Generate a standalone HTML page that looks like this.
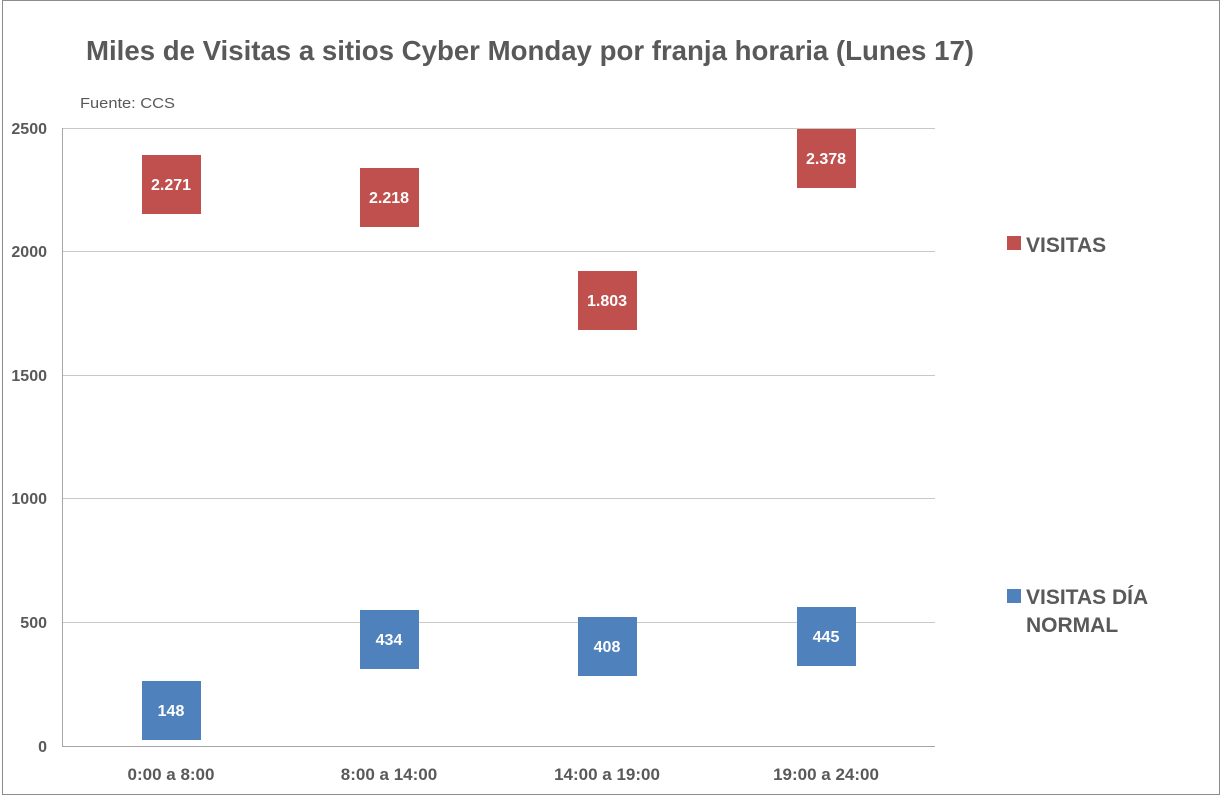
<!DOCTYPE html>
<html><head><meta charset="utf-8"><style>
html,body{margin:0;padding:0;background:#fff;}
svg{display:block;}
text{font-family:"Liberation Sans Narrow","Liberation Sans",sans-serif;}
</style></head><body>
<svg width="1222" height="797" viewBox="0 0 1222 797" xmlns="http://www.w3.org/2000/svg">
<rect x="2.5" y="0.5" width="1217" height="794" fill="#fff" stroke="#8c8c8c"/>
<text x="86" y="60" font-size="28" font-weight="bold" fill="#595959" textLength="888" lengthAdjust="spacingAndGlyphs">Miles de Visitas a sitios Cyber Monday por franja horaria (Lunes 17)</text>
<text x="80" y="108" font-size="15" fill="#595959" textLength="95" lengthAdjust="spacingAndGlyphs">Fuente: CCS</text>
<g stroke="#c8c8c8" stroke-width="1">
<line x1="62" y1="128.5" x2="935" y2="128.5"/>
<line x1="62" y1="251.5" x2="935" y2="251.5"/>
<line x1="62" y1="375.5" x2="935" y2="375.5"/>
<line x1="62" y1="498.5" x2="935" y2="498.5"/>
<line x1="62" y1="622.5" x2="935" y2="622.5"/>
</g>
<line x1="62.5" y1="128" x2="62.5" y2="746" stroke="#a6a6a6"/>
<line x1="62" y1="746.5" x2="935" y2="746.5" stroke="#a6a6a6"/>
<g font-size="16" font-weight="bold" fill="#595959" text-anchor="end">
<text x="47" y="134">2500</text>
<text x="47" y="257">2000</text>
<text x="47" y="381">1500</text>
<text x="47" y="504">1000</text>
<text x="47" y="628">500</text>
<text x="47" y="752">0</text>
</g>
<g font-size="17" font-weight="bold" fill="#595959" text-anchor="middle">
<text x="171" y="780">0:00 a 8:00</text>
<text x="389" y="780">8:00 a 14:00</text>
<text x="607" y="780">14:00 a 19:00</text>
<text x="826" y="780">19:00 a 24:00</text>
</g>
<g fill="#c0504d">
<rect x="142" y="155" width="59" height="59"/>
<rect x="360" y="168" width="59" height="59"/>
<rect x="578" y="271" width="59" height="59"/>
<rect x="797" y="129" width="59" height="59"/>
</g>
<g fill="#4f81bd">
<rect x="142" y="681" width="59" height="59"/>
<rect x="360" y="610" width="59" height="59"/>
<rect x="578" y="617" width="59" height="59"/>
<rect x="797" y="607" width="59" height="59"/>
</g>
<g font-size="16" font-weight="bold" fill="#fff" text-anchor="middle">
<text x="171" y="190">2.271</text>
<text x="389" y="203">2.218</text>
<text x="607" y="306">1.803</text>
<text x="826" y="164">2.378</text>
<text x="171" y="716">148</text>
<text x="389" y="645">434</text>
<text x="607" y="652">408</text>
<text x="826" y="642">445</text>
</g>
<rect x="1007" y="236" width="14" height="14" fill="#c0504d"/>
<text x="1026" y="252" font-size="21" font-weight="bold" fill="#595959">VISITAS</text>
<rect x="1007" y="589" width="14" height="14" fill="#4f81bd"/>
<text x="1026" y="604" font-size="21" font-weight="bold" fill="#595959">VISITAS DÍA</text>
<text x="1026" y="632" font-size="21" font-weight="bold" fill="#595959">NORMAL</text>
</svg>
</body></html>
